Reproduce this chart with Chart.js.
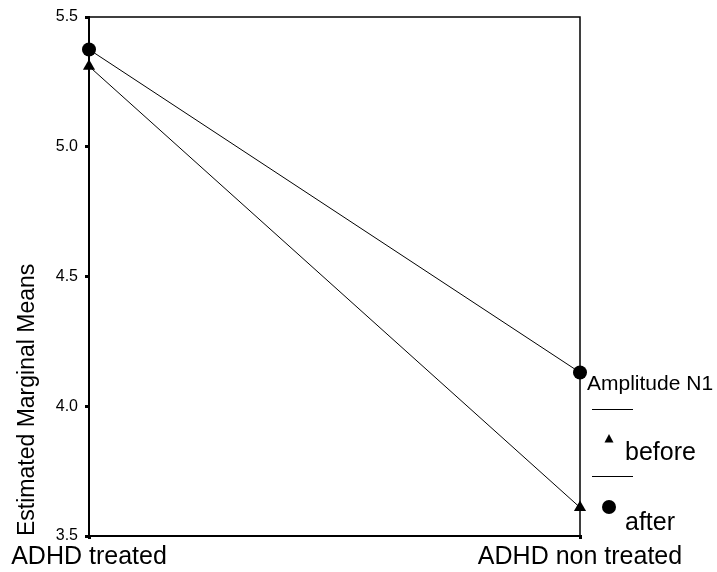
<!DOCTYPE html>
<html>
<head>
<meta charset="utf-8">
<script src="https://cdn.jsdelivr.net/npm/chart.js@4"></script>
<style>
  html, body { margin: 0; padding: 0; background: #fff; }
  canvas { display: block; }
</style>
</head>
<body>
<canvas id="c" width="717" height="572"></canvas>
<script>
const categories = ['ADHD treated', 'ADHD non treated'];
const beforeValues = [5.31, 3.61];
const afterValues = [5.375, 4.13];
const seriesLabels = ['before', 'after'];
const yTicks = [3.5, 4.0, 4.5, 5.0, 5.5];
const yTitle = 'Estimated Marginal Means';
const legendTitle = 'Amplitude N1';

const FONT = '"Liberation Sans", Arial, sans-serif';

const boxPlugin = {
  id: 'box',
  beforeDatasetsDraw(chart) {
    const a = chart.chartArea;
    const ctx = chart.ctx;
    ctx.save();
    ctx.strokeStyle = '#000';
    ctx.lineWidth = 1.5;
    ctx.beginPath();
    ctx.moveTo(a.left, a.top);
    ctx.lineTo(a.right, a.top);
    ctx.lineTo(a.right, a.bottom);
    ctx.stroke();
    ctx.restore();
  }
};

const legendPlugin = {
  id: 'customLegend',
  afterDraw(chart) {
    const ctx = chart.ctx;
    const a = chart.chartArea;
    const x0 = a.right + 7;
    ctx.save();
    ctx.fillStyle = '#000';
    ctx.strokeStyle = '#000';
    ctx.textBaseline = 'alphabetic';
    ctx.textAlign = 'left';
    ctx.font = '21px ' + FONT;
    ctx.fillText(legendTitle, x0, 390);
    const ds = chart.data.datasets;
    const rows = [
      { lineY: 409.5, markY: 439, textY: 460 },
      { lineY: 476.5, markY: 507, textY: 530 }
    ];
    ds.forEach((d, i) => {
      const r = rows[i];
      ctx.lineWidth = 1;
      ctx.beginPath();
      ctx.moveTo(x0 + 5, r.lineY);
      ctx.lineTo(x0 + 46, r.lineY);
      ctx.stroke();
      const mx = x0 + 22;
      ctx.beginPath();
      if (d.pointStyle === 'triangle') {
        ctx.moveTo(mx, r.markY - 5);
        ctx.lineTo(mx + 4.5, r.markY + 3.5);
        ctx.lineTo(mx - 4.5, r.markY + 3.5);
        ctx.closePath();
      } else {
        ctx.arc(mx, r.markY, 7, 0, Math.PI * 2);
      }
      ctx.fill();
      ctx.font = '25px ' + FONT;
      ctx.fillText(d.label, x0 + 38, r.textY);
    });
    ctx.restore();
  }
};

new Chart(document.getElementById('c'), {
  type: 'line',
  data: {
    labels: categories,
    datasets: [
      {
        label: seriesLabels[0],
        data: beforeValues,
        borderColor: '#000',
        backgroundColor: '#000',
        borderWidth: 1,
        pointStyle: 'triangle',
        pointRadius: 7,
        pointBorderWidth: 0,
        clip: false
      },
      {
        label: seriesLabels[1],
        data: afterValues,
        borderColor: '#000',
        backgroundColor: '#000',
        borderWidth: 1,
        pointStyle: 'circle',
        pointRadius: 7,
        pointBorderWidth: 0,
        clip: false
      }
    ]
  },
  options: {
    responsive: false,
    animation: false,
    devicePixelRatio: 1,
    layout: { padding: { top: 17, right: 137, bottom: 0, left: 0 } },
    plugins: {
      legend: { display: false },
      tooltip: { enabled: false }
    },
    elements: { line: { tension: 0 } },
    scales: {
      x: {
        type: 'category',
        offset: false,
        grid: { drawOnChartArea: false, drawTicks: true, tickLength: 3, lineWidth: 3, color: '#000' },
        border: { display: true, color: '#000', width: 2 },
        ticks: {
          color: '#000',
          font: { family: FONT, size: 25 },
          padding: 3,
          maxRotation: 0,
          autoSkip: false
        },
        afterFit(scale) { scale.height = 36; }
      },
      y: {
        min: 3.5,
        max: 5.5,
        afterBuildTicks(scale) { scale.ticks = yTicks.map(v => ({ value: v })); },
        grid: { drawOnChartArea: false, drawTicks: true, tickLength: 4, lineWidth: 3, color: '#000' },
        border: { display: true, color: '#000', width: 2 },
        ticks: {
          color: '#000',
          font: { family: FONT, size: 16 },
          padding: 7,
          callback: (v) => Number(v).toFixed(1)
        },
        title: {
          display: true,
          text: yTitle,
          align: 'start',
          color: '#000',
          font: { family: FONT, size: 23 },
          padding: { top: 14, bottom: 0 }
        },
        afterFit(scale) { scale.width = 89; }
      }
    }
  },
  plugins: [boxPlugin, legendPlugin]
});
</script>
</body>
</html>
